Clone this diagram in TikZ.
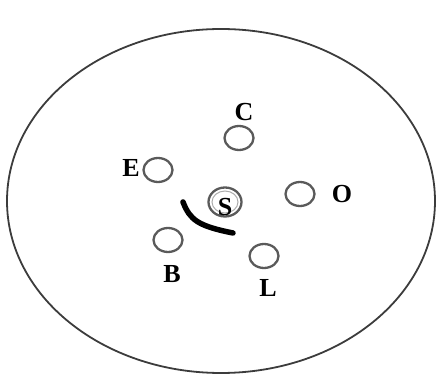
\documentclass[tikz,border=0pt]{standalone}
\usepackage{fontspec}
\setmainfont{Liberation Serif}
\usetikzlibrary{shapes.geometric}
\definecolor{ringgray}{RGB}{90,90,90}
\definecolor{dishgray}{RGB}{60,60,60}
\tikzset{
  dish/.style={draw=dishgray,line width=1.8pt},
  well/.style={ellipse,draw=ringgray,line width=2.3pt,minimum width=29pt,minimum height=24pt,inner sep=0pt},
  sample/.style={well,minimum width=33pt,minimum height=29pt},
  lab/.style={font=\fontsize{26}{28}\selectfont\bfseries,inner sep=0pt},
  streak/.style={black,line width=5.5pt,line cap=round},
}
\begin{document}
\begin{tikzpicture}[x=1pt,y=-1pt]
  \path[use as bounding box] (0,0) rectangle (437,379);
  % plate
  \draw[dish] (221,201) ellipse [x radius=214,y radius=172];

  % wells
  \node[well] (C) at (239,138) {};
  \node[well] (E) at (158,170) {};
  \node[sample] (S) at (225,202) {};
  \node[ellipse,draw=ringgray!50,line width=1pt,minimum width=26pt,minimum height=22pt,inner sep=0pt] (Sin) at (S) {};
  \node[well] (O) at (300,194) {};
  \node[well] (B) at (168,240) {};
  \node[well] (L) at (264,256) {};

  % labels
  \node[lab] (Clab) at (244,112) {C};
  \node[lab] (Elab) at (131,168) {E};
  \node[lab] (Slab) at (225,207) {S};
  \node[lab] (Olab) at (342,194) {O};
  \node[lab] (Blab) at (172,274) {B};
  \node[lab] (Llab) at (268,288) {L};

  % streak
  \coordinate (st1) at (183,202);
  \coordinate (st2) at (233,233);
  \draw[streak] (st1) .. controls (190,220) and (198,226) .. (st2);
\end{tikzpicture}
\end{document}
